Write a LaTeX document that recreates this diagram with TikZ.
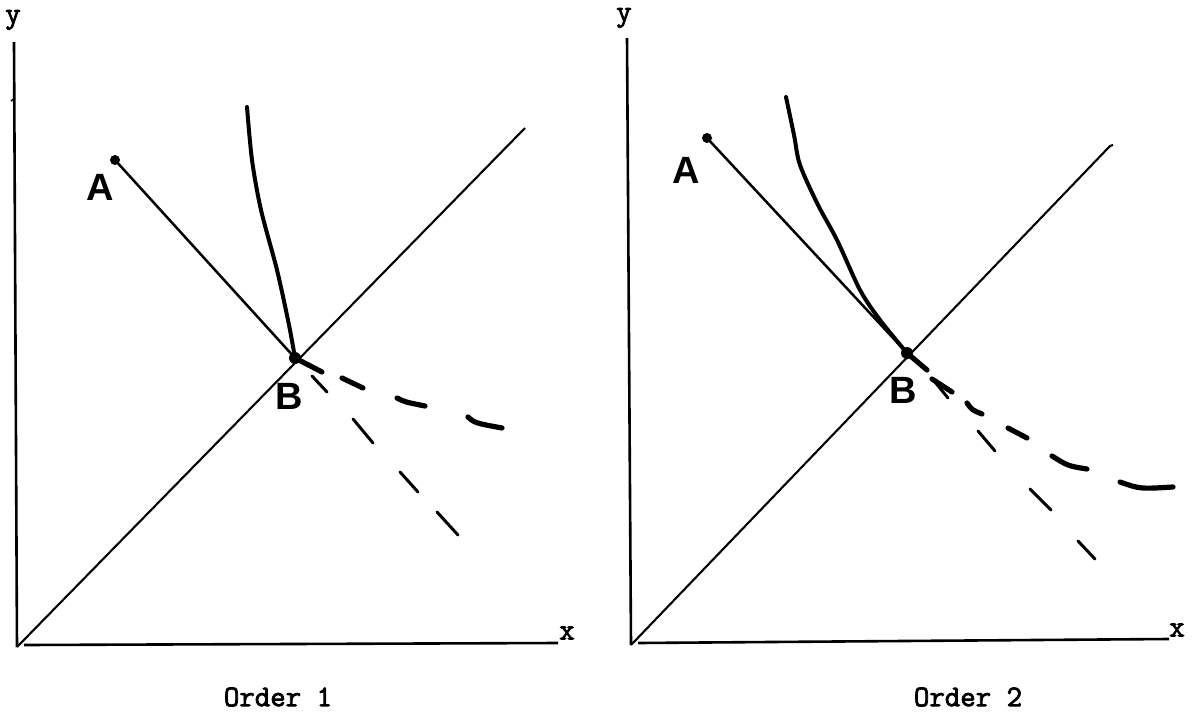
\documentclass[tikz,border=0pt]{standalone}
\usepackage{fontspec}
\setsansfont{Liberation Sans}
\newfontfamily\typefont{Latin Modern Mono}
\newfontfamily\typebold{Latin Modern Mono}[FakeBold=2.5]
\begin{document}
\begin{tikzpicture}[x=1pt,y=-1pt,
  axis/.style={line width=2.6pt},
  diag/.style={line width=2.1pt},
  budget/.style={line width=2.5pt},
  icurve/.style={line width=4pt, line cap=round, line join=round},
  thickdash/.style={line width=5.2pt, line cap=round},
  thindash/.style={line width=3pt, line cap=round},
  axlabel/.style={font=\typebold\fontsize{30}{30}\selectfont, inner sep=0pt},
  ptlabel/.style={font=\sffamily\bfseries\fontsize{38}{38}\selectfont, inner sep=0pt},
  caption/.style={font=\typebold\fontsize{30}{30}\selectfont, inner sep=0pt}]
\useasboundingbox (0,0) rectangle (1196,717);
\fill[white] (0,0) rectangle (1196,717);

% ---------- left panel ----------
\coordinate (O1) at (17,647);
\coordinate (Ytop1) at (14,42);
\coordinate (Xs1) at (24,645);
\coordinate (Xe1) at (558,643);
\coordinate (D1) at (525,128);
\coordinate (A1) at (115,160);
\coordinate (B1) at (295,358);

\node[axlabel] (ylab1) at (13,20) {y};
\node[axlabel] (xlab1) at (567,633) {x};
\node[ptlabel] (alab1) at (100,187) {A};
\node[ptlabel] (blab1) at (289,396) {B};
\node[caption] (cap1) at (278,697) {Order 1};

\draw[axis] (Ytop1) -- (O1);
\draw[line width=1.5pt] (11,101) -- (15,98);
\draw[axis] (Xs1) -- (Xe1);
\draw[diag] (O1) -- (D1);
\fill (A1) circle (5pt);
\draw[budget] (A1) -- (B1);
\draw[icurve] plot[smooth] coordinates {(247,107) (252,160) (261,210) (277,270) (289,325) (295,358)};
\fill (B1) circle (6pt);

\draw[thickdash] (B1) -- (322,372);
\draw[thickdash] (342,378) -- (363,388);
\draw[thickdash] (397,398) .. controls (405,402) .. (425,406);
\draw[thickdash] (468,417) .. controls (475,423) .. (502,428);

\draw[thindash] (312,376) -- (327,392);
\draw[thindash] (353,419) -- (373,443);
\draw[thindash] (400,472) -- (418,492);
\draw[thindash] (437,512) -- (458,535);

% ---------- right panel ----------
\coordinate (O2) at (631,645);
\coordinate (Ytop2) at (627,38);
\coordinate (Xs2) at (638,643);
\coordinate (Xe2) at (1169,639);
\coordinate (D2) at (1110,146);
\coordinate (A2) at (707,138);
\coordinate (B2) at (907,353);

\node[axlabel] (ylab2) at (624,18) {y};
\node[axlabel] (xlab2) at (1177,630) {x};
\node[ptlabel] (alab2) at (686,170) {A};
\node[ptlabel] (blab2) at (903,390) {B};
\node[caption] (cap2) at (968,697) {Order 2};

\draw[axis] (Ytop2) -- (O2);
\draw[axis] (Xs2) -- (Xe2);
\draw[diag] (O2) -- (D2) -- (1113,145);
\fill (A2) circle (5pt);
\draw[budget] (A2) -- (B2);
\draw[icurve] plot[smooth] coordinates {(786,97) (794,135) (800,165) (818,205) (837,240) (860,290) (880,320) (907,353)};
\fill (B2) circle (6pt);

\draw[thickdash] (B2) -- (927,370);
\draw[thickdash] (932,379) -- (952,392);
\draw[thickdash] (967,403) .. controls (972,410) .. (982,414);
\draw[thickdash] (1008,428) -- (1027,438);
\draw[thickdash] (1052,456) .. controls (1068,466) .. (1087,469);
\draw[thickdash] (1120,482) .. controls (1140,489) .. (1173,487);

\draw[thindash] (935,382) -- (948,398);
\draw[thindash] (978,431) -- (995,451);
\draw[thindash] (1030,489) -- (1051,510);
\draw[thindash] (1078,541) -- (1095,559);
\end{tikzpicture}
\end{document}
